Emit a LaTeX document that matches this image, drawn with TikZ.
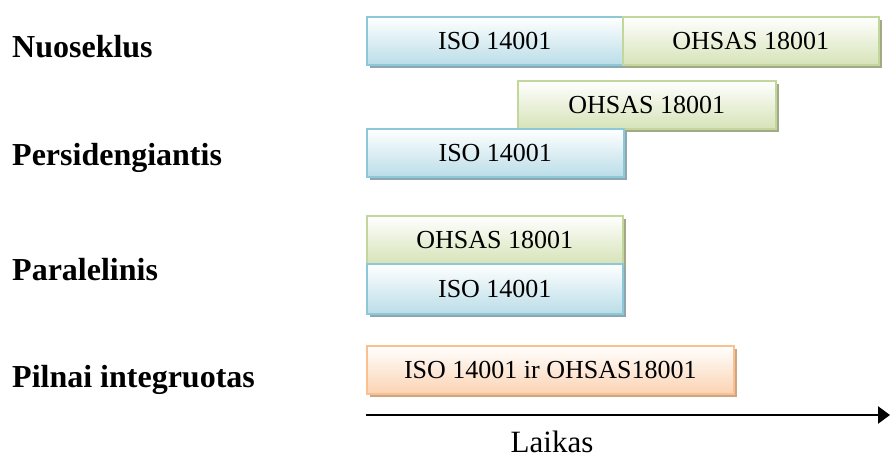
\documentclass[tikz,border=0pt]{standalone}
\usepackage{fontspec}
\setmainfont{Liberation Serif}
\usetikzlibrary{shadows,arrows.meta}
\definecolor{bluebd}{HTML}{8CC8D8}
\definecolor{bluebot}{HTML}{BADDE8}
\definecolor{blueshd}{HTML}{8EA6AE}
\definecolor{greenbd}{HTML}{C3D69B}
\definecolor{greenbot}{HTML}{D6E3B8}
\definecolor{greenshd}{HTML}{A3A886}
\definecolor{orangebd}{HTML}{FAC090}
\definecolor{orangebot}{HTML}{FBD3B3}
\definecolor{orangeshd}{HTML}{CDA583}
\tikzset{
  bx/.style={draw, line width=1.6pt, minimum height=48pt, inner sep=0pt, anchor=north west,
    font=\fontsize{26}{30}\selectfont, top color=white},
  bluebox/.style={bx, draw=bluebd, bottom color=bluebot,
    drop shadow={shadow xshift=3pt, shadow yshift=-3pt, fill=blueshd, opacity=1}},
  greenbox/.style={bx, draw=greenbd, bottom color=greenbot,
    drop shadow={shadow xshift=3pt, shadow yshift=-3pt, fill=greenshd, opacity=1}},
  orangebox/.style={bx, draw=orangebd, bottom color=orangebot,
    drop shadow={shadow xshift=3pt, shadow yshift=-3pt, fill=orangeshd, opacity=1}},
  lbl/.style={anchor=west, font=\fontsize{32}{36}\selectfont\bfseries, inner sep=0pt},
}
\begin{document}
\begin{tikzpicture}[x=1pt,y=1pt]
\useasboundingbox (0,0) rectangle (890,459);
% left labels
\node[lbl] (l1) at (12,412) {Nuoseklus};
\node[lbl] (l2) at (12,301) {Persidengiantis};
\node[lbl] (l3) at (12,189) {Paralelinis};
\node[lbl] (l4) at (12,79) {Pilnai integruotas};
% row 1
\node[bluebox, minimum width=256pt] (r1a) at (366,443) {ISO 14001};
\node[greenbox, minimum width=256pt] (r1b) at (622,443) {OHSAS 18001};
% row 2
\node[greenbox, minimum width=258pt] (r2a) at (517,379) {OHSAS 18001};
\node[bluebox, minimum width=257pt] (r2b) at (366,331) {ISO 14001};
% row 3
\node[greenbox, minimum width=256pt] (r3a) at (366,244) {OHSAS 18001};
\node[bluebox, minimum width=256pt, minimum height=50pt] (r3b) at (366,196) {ISO 14001};
% row 4
\node[orangebox, minimum width=367pt] (r4) at (366,114) {ISO 14001 ir OHSAS18001};
% axis
\coordinate (t0) at (366,44);
\coordinate (t1) at (890,44);
\draw[line width=2.5pt, -{Triangle[length=12pt,width=17pt]}] (t0) -- (t1);
\node[font=\fontsize{31}{36}\selectfont, inner sep=0pt, anchor=base] (time) at (552,7) {Laikas};
\end{tikzpicture}
\end{document}
